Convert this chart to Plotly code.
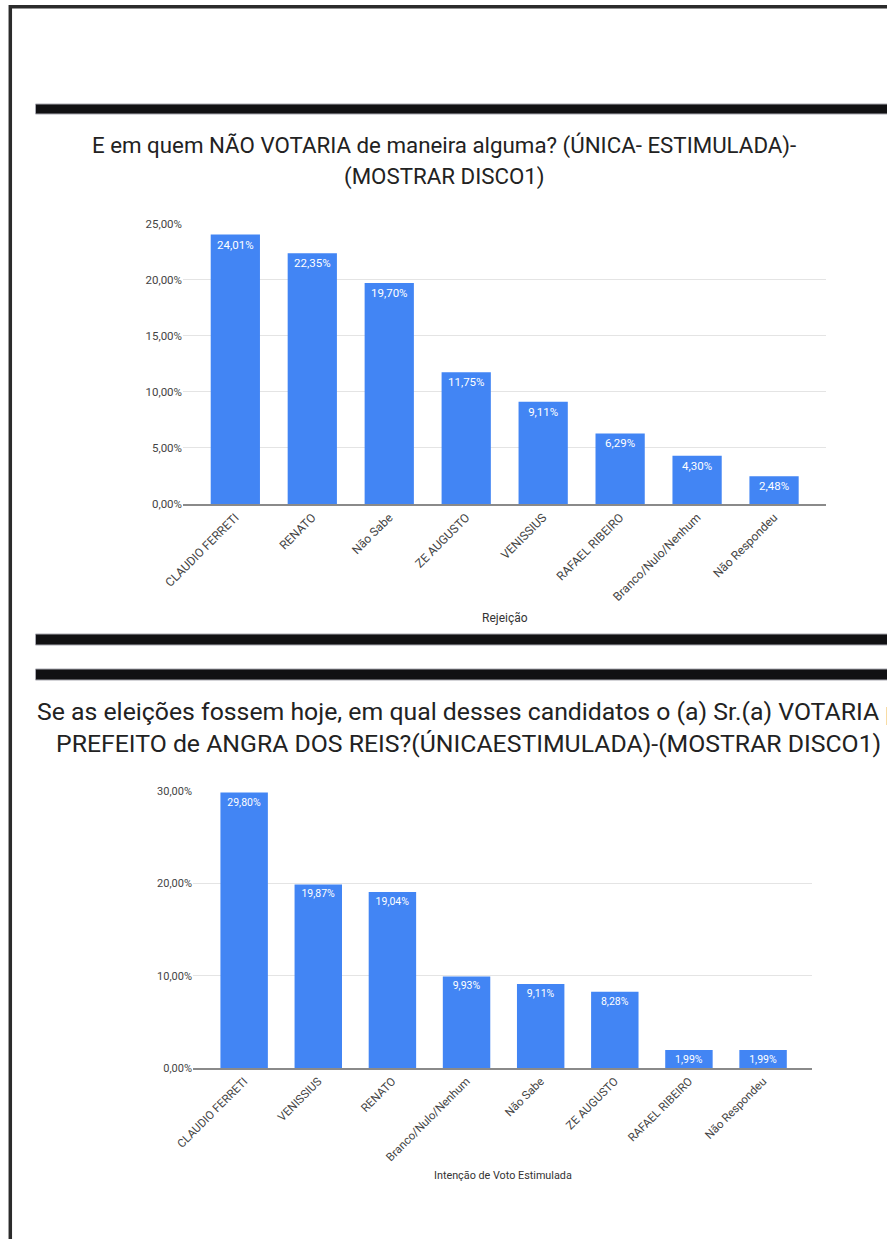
import plotly.graph_objects as go

W, H = 887, 1239

# ---------------- data ----------------
rej_categories = ["CLAUDIO FERRETI", "RENATO", "Não Sabe", "ZE AUGUSTO", "VENISSIUS",
                  "RAFAEL RIBEIRO", "Branco/Nulo/Nenhum", "Não Respondeu"]
rej_values = [24.01, 22.35, 19.70, 11.75, 9.11, 6.29, 4.30, 2.48]
rej_yticks = [0, 5, 10, 15, 20, 25]

vot_categories = ["CLAUDIO FERRETI", "VENISSIUS", "RENATO", "Branco/Nulo/Nenhum", "Não Sabe",
                  "ZE AUGUSTO", "RAFAEL RIBEIRO", "Não Respondeu"]
vot_values = [29.80, 19.87, 19.04, 9.93, 9.11, 8.28, 1.99, 1.99]
vot_yticks = [0, 10, 20, 30]

title1_l1 = "E em quem NÃO VOTARIA de maneira alguma? (ÚNICA- ESTIMULADA)-"
title1_l2 = "(MOSTRAR DISCO1)"
title2_l1 = "Se as eleições fossem hoje, em qual desses candidatos o (a) Sr.(a) VOTARIA para"
title2_l2 = "PREFEITO de ANGRA DOS REIS?(ÚNICAESTIMULADA)-(MOSTRAR DISCO1)"
xtitle1 = "Rejeição"
xtitle2 = "Intenção de Voto Estimulada"


def pct(v):
    return f"{v:.2f}%".replace(".", ",")


def fx(p):
    return p / W


def fy(p):
    return 1 - p / H


BLUE = "#4285F4"
FONT = "Roboto"
TICKC = "#444444"

fig = go.Figure()

fig.add_trace(go.Bar(
    x=rej_categories, y=rej_values, xaxis="x", yaxis="y",
    marker=dict(color=BLUE, line=dict(width=0)), width=0.64,
    text=[pct(v) for v in rej_values], textposition="inside", insidetextanchor="end",
    textangle=0, constraintext="none",
    insidetextfont=dict(color="white", size=11.5, family=FONT),
    hoverinfo="x+y", showlegend=False,
))
fig.add_trace(go.Bar(
    x=vot_categories, y=vot_values, xaxis="x2", yaxis="y2",
    marker=dict(color=BLUE, line=dict(width=0)), width=0.64,
    text=[pct(v) for v in vot_values], textposition="inside", insidetextanchor="end",
    textangle=0, constraintext="none",
    insidetextfont=dict(color="white", size=10.5, family=FONT),
    hoverinfo="x+y", showlegend=False,
))

common_x = dict(type="category", tickangle=-45, showgrid=False, zeroline=False,
                showline=True, linecolor="#8a8a8a", linewidth=1.5, ticks="",
                automargin=False, fixedrange=True)
common_y = dict(showgrid=True, gridcolor="#e4e4e4",
                gridwidth=1, zeroline=False, showline=False, ticks="",
                automargin=False, fixedrange=True)

shapes = []
# page frame
shapes.append(dict(type="rect", xref="paper", yref="paper",
                   x0=fx(10.3), x1=1.2, y0=fy(6.7), y1=-0.2,
                   line=dict(color="#2b2b2b", width=3.5), fillcolor="rgba(0,0,0,0)"))
# thick black separators
for top, bot in [(104, 114), (634, 645), (669, 680)]:
    shapes.append(dict(type="rect", xref="paper", yref="paper",
                       x0=fx(35.5), x1=1.2, y0=fy(bot), y1=fy(top),
                       line=dict(color="#a8a8b0", width=1), fillcolor="#111113"))

annotations = [
    dict(text=title1_l1, x=fx(443.5), y=fy(145), xanchor="center", yanchor="middle", size=22.3),
    dict(text=title1_l2, x=fx(444), y=fy(176), xanchor="center", yanchor="middle", size=22.3),
    dict(text=title2_l1, x=fx(35), y=fy(711), xanchor="left", yanchor="middle", size=24.8),
    dict(text=title2_l2, x=fx(54), y=fy(743), xanchor="left", yanchor="middle", size=24.8),
]
for a in annotations:
    s = a.pop("size")
    a.update(xref="paper", yref="paper", showarrow=False,
             font=dict(family=FONT, size=s, color="#222222"))
annotations += [
    dict(text=xtitle1, x=fx(504.5), y=fy(618), xref="paper", yref="paper",
         xanchor="center", yanchor="middle", showarrow=False,
         font=dict(family=FONT, size=12, color="#333333")),
    dict(text=xtitle2, x=fx(502.5), y=fy(1175), xref="paper", yref="paper",
         xanchor="center", yanchor="middle", showarrow=False,
         font=dict(family=FONT, size=10.8, color="#333333")),
]

fig.update_layout(
    width=W, height=H, margin=dict(l=0, r=0, t=0, b=0),
    template="none", paper_bgcolor="white", plot_bgcolor="white",
    showlegend=False, bargap=0.36,
    font=dict(family=FONT, color=TICKC),
    xaxis=dict(common_x, domain=[fx(183), fx(826)], anchor="y", range=[-0.68, 7.675],
               tickfont=dict(family=FONT, size=12, color=TICKC)),
    yaxis=dict(common_y, domain=[fy(504), fy(223.5)], anchor="x", range=[0, 25],
               tickvals=rej_yticks, ticktext=[pct(v) for v in rej_yticks],
               tickfont=dict(family=FONT, size=11.5, color=TICKC)),
    xaxis2=dict(common_x, domain=[fx(193), fx(812)], anchor="y2", range=[-0.69, 7.66],
                tickfont=dict(family=FONT, size=11.5, color=TICKC)),
    yaxis2=dict(common_y, domain=[fy(1068.3), fy(790.7)], anchor="x2", range=[0, 30],
                tickvals=vot_yticks, ticktext=[pct(v) for v in vot_yticks],
                tickfont=dict(family=FONT, size=11, color=TICKC)),
    shapes=shapes, annotations=annotations,
)

fig.write_html("out.html", config={"displayModeBar": False},
               post_script="document.body.style.margin='0';document.body.style.overflow='hidden';")
